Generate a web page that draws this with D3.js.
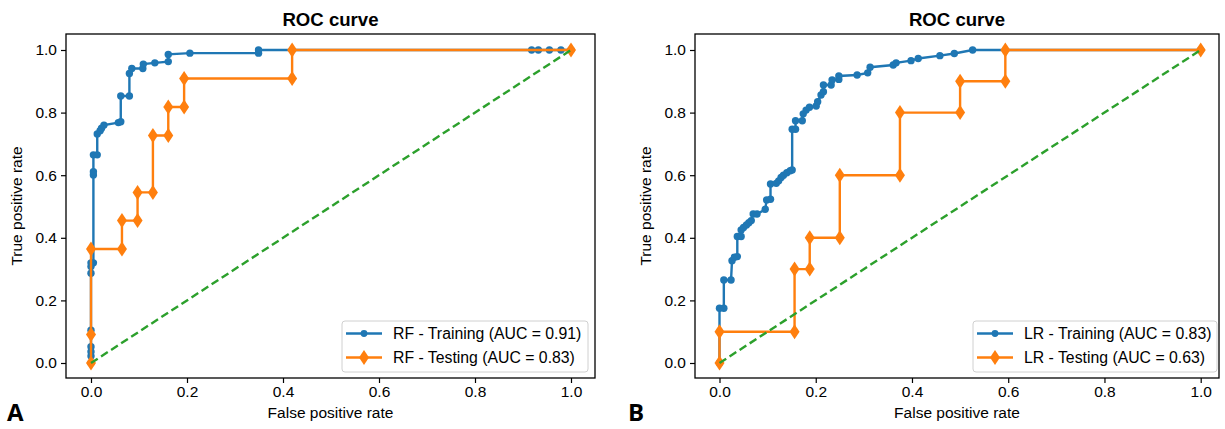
<!DOCTYPE html>
<html>
<head>
<meta charset="utf-8">
<script src="https://cdn.jsdelivr.net/npm/d3@7"></script>
<style>
  body { margin: 0; background: #fff; }
  text { font-family: "Liberation Sans", Arial, sans-serif; fill: #000; }
</style>
</head>
<body>
<div id="chart"></div>
<script>
// RF model (panel A)
var rfTrainFpr = [0, 0, 0, 0, 0, 0, 0, 0, 0.005, 0.005, 0.005, 0.005, 0.013, 0.013, 0.019, 0.022, 0.027, 0.057, 0.062, 0.062, 0.080, 0.080, 0.085, 0.108, 0.109, 0.133, 0.161, 0.161, 0.206, 0.349, 0.349, 0.918, 0.932, 0.955, 0.979, 1.0];
var rfTrainTpr = [0, 0.022, 0.036, 0.052, 0.105, 0.287, 0.308, 0.320, 0.320, 0.601, 0.611, 0.665, 0.665, 0.732, 0.742, 0.750, 0.760, 0.768, 0.771, 0.853, 0.853, 0.925, 0.941, 0.941, 0.955, 0.959, 0.963, 0.986, 0.990, 0.990, 1.0, 1.0, 1.0, 1.0, 1.0, 1.0];
var rfTestFpr = [0, 0, 0, 0.0645, 0.0645, 0.097, 0.097, 0.129, 0.129, 0.161, 0.161, 0.194, 0.194, 0.419, 0.419, 1.0];
var rfTestTpr = [0, 0.091, 0.364, 0.364, 0.455, 0.455, 0.545, 0.545, 0.727, 0.727, 0.818, 0.818, 0.909, 0.909, 1.0, 1.0];

// LR model (panel B)
var lrTrainFpr = [0, 0, 0.009, 0.009, 0.024, 0.026, 0.031, 0.037, 0.037, 0.045, 0.045, 0.050, 0.056, 0.061, 0.066, 0.070, 0.078, 0.095, 0.098, 0.106, 0.106, 0.118, 0.123, 0.128, 0.133, 0.140, 0.147, 0.151, 0.151, 0.158, 0.158, 0.172, 0.174, 0.180, 0.187, 0.201, 0.204, 0.211, 0.216, 0.216, 0.232, 0.234, 0.248, 0.248, 0.286, 0.308, 0.313, 0.361, 0.367, 0.398, 0.413, 0.458, 0.488, 0.526, 1.0];
var lrTrainTpr = [0, 0.175, 0.175, 0.265, 0.265, 0.327, 0.338, 0.340, 0.404, 0.404, 0.425, 0.433, 0.441, 0.448, 0.455, 0.476, 0.476, 0.491, 0.521, 0.523, 0.572, 0.574, 0.582, 0.593, 0.600, 0.608, 0.614, 0.617, 0.747, 0.747, 0.774, 0.774, 0.796, 0.808, 0.817, 0.821, 0.835, 0.856, 0.867, 0.888, 0.888, 0.904, 0.906, 0.917, 0.920, 0.927, 0.945, 0.952, 0.959, 0.966, 0.973, 0.982, 0.989, 1.0, 1.0];
var lrTestFpr = [0, 0, 0.156, 0.156, 0.1875, 0.1875, 0.25, 0.25, 0.375, 0.375, 0.5, 0.5, 0.594, 0.594, 1.0];
var lrTestTpr = [0, 0.1, 0.1, 0.3, 0.3, 0.4, 0.4, 0.6, 0.6, 0.8, 0.8, 0.9, 0.9, 1.0, 1.0];

var tickValues = [0, 0.2, 0.4, 0.6, 0.8, 1.0];
var rfLabels = ["RF - Training (AUC = 0.91)", "RF - Testing (AUC = 0.83)"];
var lrLabels = ["LR - Training (AUC = 0.83)", "LR - Testing (AUC = 0.63)"];

var blue = "#1f77b4", orange = "#ff7f0e", green = "#2ca02c";
var diamond = "M0,-7.5L5,0L0,7.5L-5,0Z";

var svg = d3.select("#chart").append("svg")
    .attr("width", 1225)
    .attr("height", 429);

function zip(a, b) {
    return a.map(function(v, i) { return [v, b[i]]; });
}

function drawPanel(p) {
    var x = d3.scaleLinear().domain([0, 1]).range([p.x0, p.x1]);
    var y = d3.scaleLinear().domain([0, 1]).range([363, 50]);
    var g = svg.append("g");

    // axes
    var xAxis = g.append("g").attr("transform", "translate(0," + p.bottom + ")")
        .call(d3.axisBottom(x).tickValues(tickValues).tickFormat(d3.format(".1f")).tickSize(5).tickPadding(3));
    var yAxis = g.append("g").attr("transform", "translate(" + p.left + ",0)")
        .call(d3.axisLeft(y).tickValues(tickValues).tickFormat(d3.format(".1f")).tickSize(5).tickPadding(4));
    [xAxis, yAxis].forEach(function(a) {
        a.select(".domain").remove();
        a.selectAll("line").attr("stroke", "#000").attr("stroke-width", 1.2);
        a.selectAll("text").style("font-size", "15.5px").style("font-family", "Liberation Sans, Arial, sans-serif");
    });

    var clip = "clip" + p.id;
    g.append("clipPath").attr("id", clip).append("rect")
        .attr("x", p.left).attr("y", p.top).attr("width", p.right - p.left).attr("height", p.bottom - p.top);
    var plot = g.append("g").attr("clip-path", "url(#" + clip + ")");

    var line = d3.line().x(function(d) { return x(d[0]); }).y(function(d) { return y(d[1]); });

    var train = zip(p.trainFpr, p.trainTpr);
    var test = zip(p.testFpr, p.testTpr);

    plot.append("path").datum(train).attr("d", line)
        .attr("fill", "none").attr("stroke", blue).attr("stroke-width", 2.4);
    plot.selectAll(".dot").data(train).enter().append("circle")
        .attr("cx", function(d) { return x(d[0]); })
        .attr("cy", function(d) { return y(d[1]); })
        .attr("r", 3.7).attr("fill", blue);

    plot.append("path").datum(test).attr("d", line)
        .attr("fill", "none").attr("stroke", orange).attr("stroke-width", 2.4);
    plot.selectAll(".dia").data(test).enter().append("path")
        .attr("d", diamond)
        .attr("transform", function(d) { return "translate(" + x(d[0]) + "," + y(d[1]) + ")"; })
        .attr("fill", orange);

    plot.append("line")
        .attr("x1", x(0)).attr("y1", y(0)).attr("x2", x(1)).attr("y2", y(1))
        .attr("stroke", green).attr("stroke-width", 2.4).attr("stroke-dasharray", "8,4");

    // frame
    g.append("rect").attr("x", p.left).attr("y", p.top)
        .attr("width", p.right - p.left).attr("height", p.bottom - p.top)
        .attr("fill", "none").attr("stroke", "#000").attr("stroke-width", 1.3);

    // title and labels
    var cx = (p.left + p.right) / 2;
    g.append("text").attr("x", cx).attr("y", 26).attr("text-anchor", "middle")
        .style("font-size", "18.6px").style("font-weight", "bold").text("ROC curve");
    g.append("text").attr("x", cx).attr("y", 418).attr("text-anchor", "middle")
        .style("font-size", "15.5px").text("False positive rate");
    g.append("text").attr("transform", "translate(" + (p.left - 44) + "," + ((p.top + p.bottom) / 2) + ") rotate(-90)")
        .attr("text-anchor", "middle").style("font-size", "15.5px").text("True positive rate");

    // legend
    var lg = g.append("g").attr("transform", "translate(" + p.legX + ",321)");
    lg.append("rect").attr("x", 0).attr("y", 0).attr("width", p.legW).attr("height", 51)
        .attr("rx", 3).attr("fill", "#fff").attr("fill-opacity", 0.8)
        .attr("stroke", "#d0d0d0").attr("stroke-width", 1);
    [0, 1].forEach(function(i) {
        var ly = 12.5 + i * 24;
        var col = i === 0 ? blue : orange;
        lg.append("line").attr("x1", 4).attr("x2", 40).attr("y1", ly).attr("y2", ly)
            .attr("stroke", col).attr("stroke-width", 2.4);
        if (i === 0) {
            lg.append("circle").attr("cx", 22).attr("cy", ly).attr("r", 3.4).attr("fill", col);
        } else {
            lg.append("path").attr("d", diamond)
                .attr("transform", "translate(22," + ly + ")").attr("fill", col);
        }
        lg.append("text").attr("x", 51).attr("y", ly + 5.5).style("font-size", "15.8px").text(p.labels[i]);
    });

    // panel letter
    svg.append("text").attr("x", p.letterX).attr("y", 421)
        .style("font-family", "Open Sans, Noto Sans, sans-serif")
        .style("font-size", "24px").style("font-weight", "bold").text(p.letter);
}

drawPanel({
    id: "A", letter: "A", letterX: 7,
    left: 66, right: 595, top: 34, bottom: 378,
    x0: 91, x1: 571,
    trainFpr: rfTrainFpr, trainTpr: rfTrainTpr,
    testFpr: rfTestFpr, testTpr: rfTestTpr,
    labels: rfLabels, legX: 342, legW: 246
});

drawPanel({
    id: "B", letter: "B", letterX: 628,
    left: 695, right: 1219, top: 34, bottom: 378,
    x0: 719.5, x1: 1200.7,
    trainFpr: lrTrainFpr, trainTpr: lrTrainTpr,
    testFpr: lrTestFpr, testTpr: lrTestTpr,
    labels: lrLabels, legX: 973, legW: 244
});
</script>
</body>
</html>
